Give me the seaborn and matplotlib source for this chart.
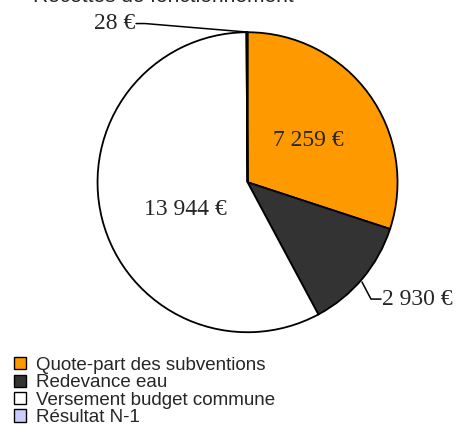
import matplotlib
matplotlib.use("Agg")
import matplotlib.pyplot as plt
import seaborn as sns
from matplotlib.patches import Patch

# Données
categories = ["Quote-part des subventions", "Redevance eau",
              "Versement budget commune", "Résultat N-1"]
montants = [7259, 2930, 13944, 28]
etiquettes = ["7 259 €", "2 930 €", "13 944 €", "28 €"]
couleurs = ["#FF9900", "#333333", "#FFFFFF", "#CCCCFF"]

sns.set_style("white")

fig = plt.figure(figsize=(4.6, 4.46), dpi=100)
ax = fig.add_axes([0.212, 0.2551, 0.6522, 0.6726])

wedges, _ = ax.pie(montants, colors=couleurs, startangle=90, counterclock=False,
                   radius=1, wedgeprops={"edgecolor": "black", "linewidth": 1.3,
                                         "clip_on": False})
ax.set_xlim(-1, 1)
ax.set_ylim(-1, 1)
ax.set_aspect("equal")
ax.axis("off")

serif = {"family": "Liberation Serif", "size": 17}

# étiquettes dans les parts
ax.text(0.403, 0.275, etiquettes[0], ha="center", va="center", fontdict=serif)
ax.text(-0.417, -0.185, etiquettes[2], ha="center", va="center", fontdict=serif)

# étiquettes extérieures avec traits de rappel
ax.plot([-0.743, -0.683, 0.0], [1.058, 1.058, 1.001], color="black", lw=1.1, clip_on=False)
ax.text(-0.75, 1.055, etiquettes[3], ha="right", va="center", fontdict=serif)
ax.plot([0.763, 0.823, 0.89], [-0.665, -0.779, -0.779], color="black", lw=1.1, clip_on=False)
ax.text(0.895, -0.779, etiquettes[1], ha="left", va="center", fontdict=serif)

fig.text(33 / 460, 1 - 1.5 / 446, "Recettes de fonctionnement", ha="left", va="baseline",
         family="Liberation Sans", fontsize=15)

handles = [Patch(facecolor=c, edgecolor="black", linewidth=1) for c in couleurs]
fig.legend(handles, categories, loc="upper left", bbox_to_anchor=(14 / 460, 1 - 357 / 446),
           frameon=False, prop={"family": "Liberation Sans", "size": 13.5},
           handlelength=0.62, handleheight=0.62, handletextpad=0.55,
           labelspacing=0.02, borderpad=0, borderaxespad=0)

fig.savefig("out.png", dpi=100)
